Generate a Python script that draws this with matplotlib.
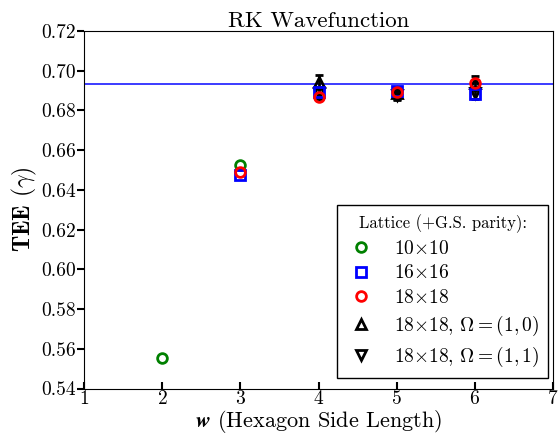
import numpy as np
import matplotlib
matplotlib.use("Agg")
import matplotlib.pyplot as plt

plt.rcParams['font.family'] = 'cmr10'
plt.rcParams['mathtext.fontset'] = 'cm'
plt.rcParams['axes.formatter.use_mathtext'] = True
plt.rcParams['axes.unicode_minus'] = False

# datos
w_10 = [2, 3]
tee_10 = [0.5552, 0.6525]

w_16 = [3, 4, 5, 6]
tee_16 = [0.6477, 0.6893, 0.6897, 0.6885]

w_18 = [3, 4, 5, 6]
tee_18 = [0.6490, 0.6866, 0.6894, 0.6937]

w_up = [4, 5, 6]
tee_up = [0.6943, 0.6890, 0.6937]
err_up = [0.0035, 0.0030, 0.0035]

w_down = [4, 5, 6]
tee_down = [0.6890, 0.6880, 0.6890]
err_down = [0.0030, 0.0025, 0.0030]

ln2 = np.log(2)

fig = plt.figure(figsize=(5.6, 4.4), dpi=100)
ax = fig.add_axes([0.15, 0.117, 0.8375, 0.8125])

ax.axhline(ln2, color='#1a1aff', lw=1.2, zorder=1)

# triangulos con barras de error
ax.errorbar(w_up, tee_up, yerr=err_up, fmt='^', ms=7, mfc='none', mec='k',
            mew=2, ecolor='k', elinewidth=2, capsize=3, capthick=2, zorder=2)
ax.errorbar(w_down, tee_down, yerr=err_down, fmt='v', ms=7, mfc='none', mec='k',
            mew=2, ecolor='k', elinewidth=2, capsize=3, capthick=2, zorder=2)

ax.plot(w_10, tee_10, 'o', ms=7, mfc='none', mec='green', mew=2, ls='none',
        label=r'$10{\times}10$', zorder=3)
ax.plot(w_16, tee_16, 's', ms=7, mfc='none', mec='blue', mew=2, ls='none',
        label=r'$16{\times}16$', zorder=4)
ax.plot(w_18, tee_18, 'o', ms=7, mfc='none', mec='red', mew=2, ls='none',
        label=r'$18{\times}18$', zorder=5)
# solo para la leyenda
ax.plot([], [], '^', ms=7, mfc='none', mec='k', mew=2, ls='none',
        label=r'$18{\times}18$, $\Omega=(1,0)$')
ax.plot([], [], 'v', ms=7, mfc='none', mec='k', mew=2, ls='none',
        label=r'$18{\times}18$, $\Omega=(1,1)$')

ax.set_xlim(1, 7)
ax.set_ylim(0.54, 0.72)
ax.set_xticks(range(1, 8))
ax.set_yticks(np.arange(0.54, 0.7201, 0.02))
ax.yaxis.set_major_formatter(matplotlib.ticker.FormatStrFormatter('%.2f'))
ax.tick_params(axis='x', direction='in', length=5, width=1.5, labelsize=14, pad=1)
ax.tick_params(axis='y', direction='out', length=5, width=1.5, labelsize=14, pad=1)

ax.set_title('RK Wavefunction', fontsize=16.5, pad=2)
xl = ax.set_xlabel(r'$\mathbfit{w}$ (Hexagon Side Length)', fontsize=16, labelpad=0)
try:
    fig.canvas.draw()
except Exception:
    xl.set_text(r'$\mathbf{w}$ (Hexagon Side Length)')
ax.set_ylabel(r'$\mathbf{TEE}$ $(\gamma)$', fontsize=17, labelpad=1)

leg = ax.legend(loc='lower right', bbox_to_anchor=(0.99, 0.03), fontsize=14,
                title='Lattice (+G.S. parity):', title_fontsize=12,
                frameon=True, fancybox=False, framealpha=1, edgecolor='k',
                handletextpad=0.9, labelspacing=0.35, borderpad=0.45,
                handlelength=1.6, borderaxespad=0)
leg.get_frame().set_linewidth(1.0)

fig.savefig('out.png', dpi=100)
